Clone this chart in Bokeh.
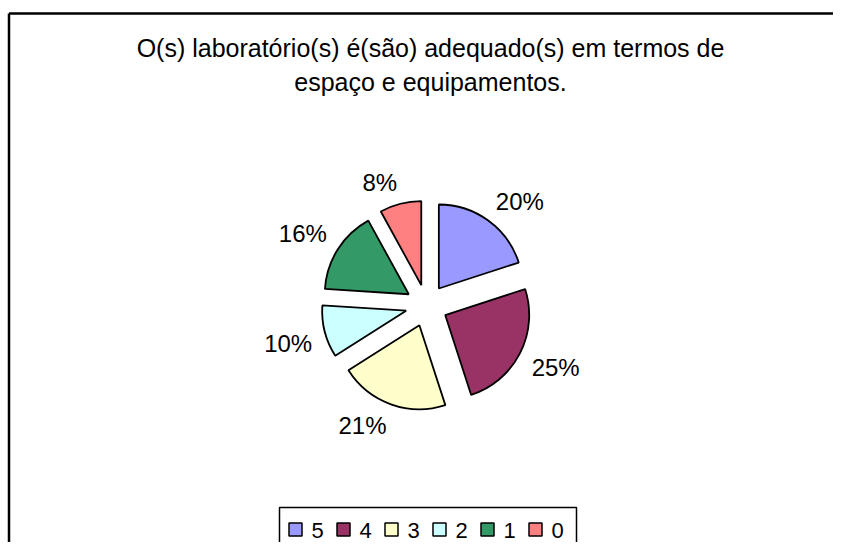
import math
from bokeh.plotting import figure
from bokeh.models import Range1d, ColumnDataSource
from bokeh.core.properties import value
from bokeh.embed import file_html
from bokeh.resources import INLINE

# ---- data ----
title_lines = ["O(s) laboratório(s) é(são) adequado(s) em termos de",
               "espaço e equipamentos."]
categories = ["5", "4", "3", "2", "1", "0"]
percents = [20, 25, 21, 10, 16, 8]
colors = ["#9999FF", "#993366", "#FFFFCC", "#CCFFFF", "#339966", "#FF8080"]

FONT = "Liberation Sans"
W, H = 833, 542

p = figure(width=W, height=H, output_backend="svg", toolbar_location=None,
           x_range=Range1d(0, W), y_range=Range1d(0, H), min_border=0,
           background_fill_color="white", border_fill_color="white")
p.axis.visible = False
p.grid.visible = False
p.outline_line_color = None

def Y(pix):  # picture row -> data y
    return H - pix

# outer chart frame (top and left edges visible)
p.line([8.5, W + 5], [Y(13), Y(13)], line_color="black", line_width=2.5)
p.line([8.5, 8.5], [Y(13), Y(H + 20)], line_color="black", line_width=2.5)

# title
p.text(x=[430, 430], y=[Y(47), Y(81)], text=title_lines, text_align="center",
       text_baseline="middle", text_font=value(FONT), text_font_size="25px",
       text_color="black")

# pie
cx, cy = 426, Y(305)
r, explode, label_r = 84, 21, 118
lab_fs = 24
total = float(sum(percents))
xs, ys, sa, ea, lx, ly, lt = [], [], [], [], [], [], []
cum = 0.0
for v in percents:
    a0 = math.pi / 2 - 2 * math.pi * cum / total
    cum += v
    a1 = math.pi / 2 - 2 * math.pi * cum / total
    mid = (a0 + a1) / 2
    xs.append(cx + explode * math.cos(mid))
    ys.append(cy + explode * math.sin(mid))
    sa.append(a0)
    ea.append(a1)
    txt = f"{round(100 * v / total)}%"
    tw = lab_fs * (0.556 * (len(txt) - 1) + 0.889)
    th = lab_fs * 0.72
    ux, uy = math.cos(mid), math.sin(mid)
    lx.append(cx + label_r * ux + math.copysign(tw / 2, ux))
    ly.append(cy + label_r * uy + math.copysign(th / 2, uy))
    lt.append(txt)

src = ColumnDataSource(dict(x=xs, y=ys, start=sa, end=ea, color=colors))
p.wedge(x="x", y="y", radius=r, start_angle="start", end_angle="end",
        direction="clock", fill_color="color", line_color="black",
        line_width=1.8, source=src)

p.text(x=lx, y=ly, text=lt, text_align="center", text_baseline="middle",
       text_font=value(FONT), text_font_size=f"{lab_fs}px", text_color="black")

# legend
leg_left, leg_top, leg_right = 279, 507, 576
p.quad(left=[leg_left], right=[leg_right], top=[Y(leg_top)], bottom=[Y(H + 30)],
       fill_color="white", line_color="black", line_width=1.5)
step = 48
sq_x = [295 + i * step for i in range(len(categories))]
p.rect(x=sq_x, y=[Y(529)] * len(categories), width=13, height=13,
       fill_color=colors, line_color="black", line_width=1.5)
p.text(x=[s + 16 for s in sq_x], y=[Y(530)] * len(categories), text=categories,
       text_align="left", text_baseline="middle", text_font=value(FONT),
       text_font_size="22px", text_color="black")

open("out.html", "w").write(file_html(p, INLINE))
